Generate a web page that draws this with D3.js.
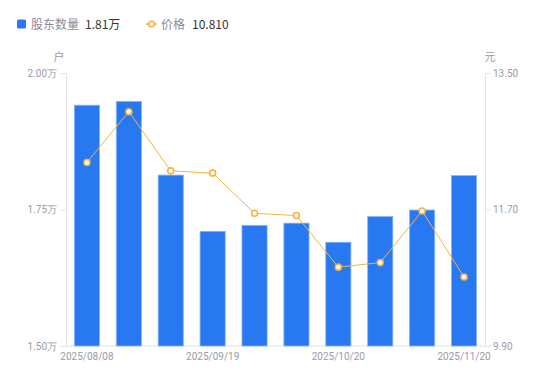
<!DOCTYPE html>
<html><head><meta charset="utf-8">
<script src="https://cdn.jsdelivr.net/npm/d3@7"></script>
<style>body{margin:0;background:#fff;font-family:"Noto Sans CJK SC","Noto Sans",sans-serif;}</style>
</head><body><svg id="c" width="550" height="381"></svg>
<script>
const categories = ["2025/08/08","2025/08/20","2025/08/29","2025/09/19","2025/09/30","2025/10/10","2025/10/20","2025/10/31","2025/11/10","2025/11/20"];
const holders = [1.941, 1.948, 1.813, 1.710, 1.721, 1.725, 1.690, 1.737, 1.749, 1.812];
const prices = [12.32, 12.99, 12.21, 12.18, 11.65, 11.62, 10.94, 11.00, 11.68, 10.81];
const leftTicks = [1.50, 1.75, 2.00];
const rightTicks = [9.90, 11.70, 13.50];
const xLabelIdx = [0, 3, 6, 9];

const svg = d3.select("#c");
const L = 66, R = 485, T = 73, B = 346;
const x = d3.scaleBand().domain(categories).range([L, R]).paddingInner(0.4).paddingOuter(0.2);
const yL = d3.scaleLinear().domain([1.5, 2.0]).range([B, T]);
const yR = d3.scaleLinear().domain([9.9, 13.5]).range([B, T]);
const grey = "#9a9aa8", axisC = "#e3e3e8";

// axes
const gl = svg.append("g").attr("transform", `translate(${L},0)`)
  .call(d3.axisLeft(yL).tickValues(leftTicks).tickSize(6).tickPadding(3).tickFormat(d => d3.format(".2f")(d) + "万"));
const gr = svg.append("g").attr("transform", `translate(${R},0)`)
  .call(d3.axisRight(yR).tickValues(rightTicks).tickSize(6).tickPadding(2).tickFormat(d3.format(".2f")));
const gb = svg.append("g").attr("transform", `translate(0,${B})`)
  .call(d3.axisBottom(x).tickValues(xLabelIdx.map(i => categories[i])).tickSize(0).tickPadding(7));
[gl, gr, gb].forEach(g => {
  g.selectAll("path.domain").attr("stroke", axisC);
  g.selectAll(".tick line").attr("stroke", axisC);
  g.selectAll("text").attr("fill", grey).style("font-size", "10px").style("font-family", "Roboto, 'Noto Sans', sans-serif");
});
gb.select("path.domain").attr("d", `M${L},0H${R}`);

svg.append("text").attr("x", 59).attr("y", 61).attr("text-anchor", "middle").attr("fill", grey).style("font-size", "11px").text("户");
svg.append("text").attr("x", 490).attr("y", 61).attr("text-anchor", "middle").attr("fill", grey).style("font-size", "11px").text("元");

// bars
svg.append("g").selectAll("rect").data(holders).join("rect")
  .attr("x", (d, i) => x(categories[i]))
  .attr("width", x.bandwidth())
  .attr("y", d => yL(d))
  .attr("height", d => B - yL(d))
  .attr("fill", "#2878f2").attr("stroke", "#86b4f8").attr("stroke-width", 0.8);

// line
const line = d3.line().x((d, i) => x(categories[i]) + x.bandwidth() / 2).y(d => yR(d));
svg.append("path").datum(prices).attr("d", line).attr("fill", "none").attr("stroke", "#f8b23c").attr("stroke-width", 1);
svg.append("g").selectAll("circle").data(prices).join("circle")
  .attr("cx", (d, i) => x(categories[i]) + x.bandwidth() / 2)
  .attr("cy", d => yR(d)).attr("r", 3)
  .attr("fill", "#fff").attr("stroke", "#f8b23c").attr("stroke-width", 1.6);

// legend
const lg = svg.append("g");
lg.append("rect").attr("x", 17).attr("y", 19.5).attr("width", 9).attr("height", 9).attr("rx", 1.5).attr("fill", "#2878f2");
lg.append("text").attr("x", 31).attr("y", 29).attr("fill", "#8a8a99").style("font-size", "12px").text("股东数量");
lg.append("text").attr("x", 85).attr("y", 29).attr("fill", "#333").style("font-size", "12px").text("1.81万");
lg.append("line").attr("x1", 146).attr("x2", 157).attr("y1", 24).attr("y2", 24).attr("stroke", "#f8b23c").attr("stroke-width", 1.5);
lg.append("circle").attr("cx", 151.5).attr("cy", 24).attr("r", 2.8).attr("fill", "#fff").attr("stroke", "#f8b23c").attr("stroke-width", 1.6);
lg.append("text").attr("x", 161).attr("y", 29).attr("fill", "#8a8a99").style("font-size", "12px").text("价格");
lg.append("text").attr("x", 192).attr("y", 29).attr("fill", "#333").style("font-size", "12px").text("10.810");
</script></body></html>
